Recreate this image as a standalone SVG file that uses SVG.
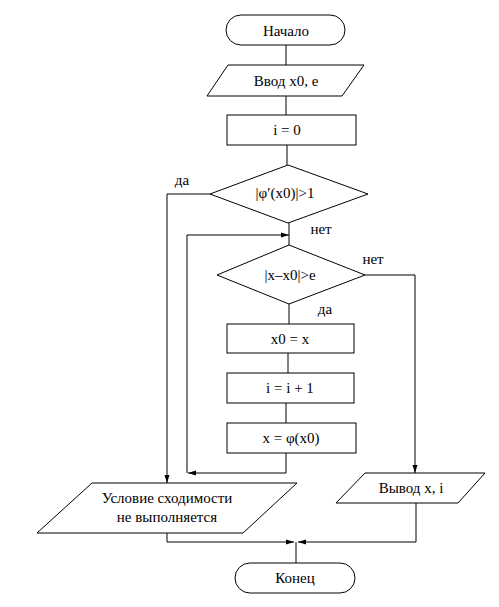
<svg xmlns="http://www.w3.org/2000/svg" width="499" height="607" viewBox="0 0 499 607">
<style>
.s{fill:#fff;stroke:#000;stroke-width:1}
.c{fill:none;stroke:#000;stroke-width:1}
.t{font-family:'Liberation Serif','Times New Roman',serif;font-size:15px;fill:#000;text-anchor:middle;dominant-baseline:central}
</style>
<defs>
<marker id="a" markerWidth="8" markerHeight="6" refX="8" refY="3" orient="auto" markerUnits="userSpaceOnUse">
<path d="M0,0.5 L8,3 L0,5.5" fill="#000"/>
</marker>
</defs>
<rect x="0" y="0" width="499" height="607" fill="#fff"/>
<g id="connectors">
<path class="c" d="M286,45 V65"/>
<path class="c" d="M286,96 V115"/>
<path class="c" d="M287,145 V165"/>
<path class="c" d="M289,223 V245"/>
<path class="c" d="M210,194 H167 V483" marker-end="url(#a)"/>
<path class="c" d="M365,275 H415 V473" marker-end="url(#a)"/>
<path class="c" d="M289,304 V324"/>
<path class="c" d="M288,353 V373"/>
<path class="c" d="M286,403 V423"/>
<path class="c" d="M286,453 V473 H188" marker-end="url(#a)"/>
<path class="c" d="M187,473 V235 H289" marker-end="url(#a)"/>
<path class="c" d="M167,533 V542 H294" marker-end="url(#a)"/>
<path class="c" d="M416,503 V542 H298" marker-end="url(#a)"/>
<path class="c" d="M296,542 V563"/>
<text class="t" x="182" y="180">да</text>
<text class="t" x="321" y="229">нет</text>
<text class="t" x="373" y="259">нет</text>
<text class="t" x="325" y="309">да</text>
</g>
<g id="start">
<rect class="s" x="226" y="15" width="119" height="30" rx="15" ry="15"/>
<text class="t" x="286" y="31">Начало</text>
</g>
<g id="input">
<polygon class="s" points="228,65 364,65 342,96 207,96"/>
<text class="t" x="286" y="81">Ввод x0, e</text>
</g>
<g id="init">
<rect class="s" x="227" y="115" width="129" height="30"/>
<text class="t" x="287" y="130">i = 0</text>
</g>
<g id="cond1">
<polygon class="s" points="288,165 368,194 288,223 210,194"/>
<text class="t" x="285" y="193">|φ′(x0)|&gt;1</text>
</g>
<g id="cond2">
<polygon class="s" points="289,245 365,275 289,304 217,275"/>
<text class="t" x="290" y="275">|x–x0|&gt;e</text>
</g>
<g id="assign1">
<rect class="s" x="227" y="324" width="127" height="29"/>
<text class="t" x="290" y="339">x0 = x</text>
</g>
<g id="inc">
<rect class="s" x="227" y="373" width="127" height="30"/>
<text class="t" x="290" y="388">i = i + 1</text>
</g>
<g id="assign2">
<rect class="s" x="227" y="423" width="129" height="30"/>
<text class="t" x="291" y="438">x = φ(x0)</text>
</g>
<g id="fail">
<polygon class="s" points="92,483 297,483 243,533 37,533"/>
<text class="t" x="167" y="498">Условие сходимости</text>
<text class="t" x="167" y="517">не выполняется</text>
</g>
<g id="output">
<polygon class="s" points="365,473 485,473 458,503 336,503"/>
<text class="t" x="411" y="488">Вывод x, i</text>
</g>
<g id="end">
<rect class="s" x="235" y="563" width="120" height="30" rx="15" ry="15"/>
<text class="t" x="295" y="578">Конец</text>
</g>
</svg>
